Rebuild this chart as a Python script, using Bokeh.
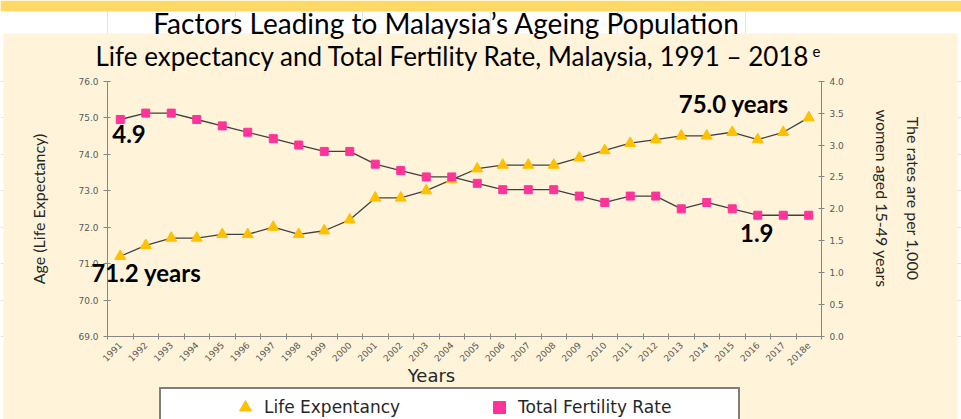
import math
from bokeh.plotting import figure
from bokeh.models import (Range1d, LinearAxis, FixedTicker, Label, Legend,
                          LegendItem, PrintfTickFormatter)
from bokeh.embed import file_html
from bokeh.resources import INLINE

# ---------------- data ----------------
years = ["1991", "1992", "1993", "1994", "1995", "1996", "1997", "1998", "1999",
         "2000", "2001", "2002", "2003", "2004", "2005", "2006", "2007", "2008",
         "2009", "2010", "2011", "2012", "2013", "2014", "2015", "2016", "2017",
         "2018e"]
life_expectancy = [71.2, 71.5, 71.7, 71.7, 71.8, 71.8, 72.0, 71.8, 71.9, 72.2,
                   72.8, 72.8, 73.0, 73.3, 73.6, 73.7, 73.7, 73.7, 73.9, 74.1,
                   74.3, 74.4, 74.5, 74.5, 74.6, 74.4, 74.6, 75.0]
fertility_rate = [3.4, 3.5, 3.5, 3.4, 3.3, 3.2, 3.1, 3.0, 2.9, 2.9,
                  2.7, 2.6, 2.5, 2.5, 2.4, 2.3, 2.3, 2.3, 2.2, 2.1,
                  2.2, 2.2, 2.0, 2.1, 2.0, 1.9, 1.9, 1.9]
left_ticks = [69.0, 70.0, 71.0, 72.0, 73.0, 74.0, 75.0, 76.0]
right_ticks = [0.0, 0.5, 1.0, 1.5, 2.0, 2.5, 3.0, 3.5, 4.0]
series_names = ["Life Expentancy", "Total Fertility Rate"]
annotations = ["4.9", "71.2 years", "75.0 years", "1.9"]
title_text = "Factors Leading to Malaysia\u2019s Ageing Population"
subtitle_text = "Life expectancy and Total Fertility Rate, Malaysia, 1991 \u2013 2018"
left_label = "Age (Life Expectancy)"
right_label_lines = ["The rates are per 1,000", "women aged 15-49 years"]
x_title = "Years"

# ---------------- layout constants (pixels) ----------------
W, H = 961, 419
X0, X1 = 107, 821          # axis extent, horizontal
Y_TOP, Y_BOT = 80.7, 336   # axis extent, vertical

CREAM = "#FFF4DA"
GOLD = "#FFC000"
PINK = "#FF3399"
AXIS = "#868686"
TICKTXT = "#595959"
TXT = "#262626"

n = len(years)
le_lo, le_hi = left_ticks[0], left_ticks[-1]
tf_lo, tf_hi = right_ticks[0], right_ticks[-1]
ppx = (X1 - X0) / n
k_le = (le_hi - le_lo) / (Y_BOT - Y_TOP)
k_tf = (tf_hi - tf_lo) / (Y_BOT - Y_TOP)


def sx(px):
    return (px - X0) / ppx


def sy(py):
    return le_hi - (py - Y_TOP) * k_le


p = figure(width=W, height=H,
           x_range=Range1d(sx(0), sx(W)),
           y_range=Range1d(sy(H), sy(0)),
           toolbar_location=None, output_backend="svg", title=None,
           x_axis_location=None, y_axis_location=None, min_border=0)
p.extra_y_ranges = {"tfr": Range1d(tf_lo - (H - Y_BOT) * k_tf, tf_hi + Y_TOP * k_tf)}
p.background_fill_color = "white"
p.border_fill_color = "white"
p.outline_line_color = None

# background panels
p.quad(left=sx(3), right=sx(957), top=sy(33), bottom=sy(H), fill_color=CREAM, line_color=None)
p.quad(left=sx(0), right=sx(W), top=sy(0), bottom=sy(11), fill_color="#FFD966", line_color=None)

xs = [i + 0.5 for i in range(n)]

# x axis
xa = LinearAxis(fixed_location=le_lo, bounds=(0, n))
xa.ticker = FixedTicker(ticks=xs, minor_ticks=list(range(n + 1)))
xa.major_label_overrides = {x: y for x, y in zip(xs, years)}
xa.major_label_orientation = math.pi / 4
xa.major_tick_in = 0
xa.major_tick_out = 0
xa.minor_tick_in = 3
xa.minor_tick_out = 3
xa.minor_tick_line_color = AXIS
xa.axis_line_color = AXIS
xa.major_label_standoff = 4
xa.major_label_text_font = "DejaVu Sans"
xa.major_label_text_font_size = "9px"
xa.major_label_text_color = TICKTXT
p.add_layout(xa, "below")

# left axis
ya = LinearAxis(fixed_location=0, bounds=(le_lo, le_hi))
ya.ticker = FixedTicker(ticks=left_ticks)
ya.formatter = PrintfTickFormatter(format="%.1f")
ya.axis_line_color = AXIS
ya.major_tick_line_color = AXIS
ya.major_tick_in = 3
ya.major_tick_out = 4
ya.minor_tick_line_color = None
ya.major_label_text_font = "DejaVu Sans"
ya.major_label_text_font_size = "9px"
ya.major_label_text_color = TICKTXT
ya.axis_label = left_label
ya.axis_label_text_font = "Lato"
ya.axis_label_text_font_size = "16px"
ya.axis_label_text_font_style = "normal"
ya.axis_label_text_color = TXT
ya.axis_label_standoff = 27
p.add_layout(ya, "left")

# right axis
ra = LinearAxis(y_range_name="tfr", fixed_location=n, bounds=(tf_lo, tf_hi))
ra.ticker = FixedTicker(ticks=right_ticks)
ra.formatter = PrintfTickFormatter(format="%.1f")
ra.axis_line_color = AXIS
ra.major_tick_line_color = AXIS
ra.major_tick_in = 3
ra.major_tick_out = 3
ra.minor_tick_line_color = None
ra.major_label_text_font = "DejaVu Sans"
ra.major_label_text_font_size = "9px"
ra.major_label_text_color = TICKTXT
p.add_layout(ra, "right")

# right axis title (two rotated lines)
for line_text, px in zip(right_label_lines, [913, 882]):
    p.add_layout(Label(x=sx(px), y=sy(198), text=line_text, angle=-math.pi / 2,
                       text_align="center", text_baseline="middle", text_font="Lato",
                       text_font_size="16px", text_color=TXT))

# series
p.line(xs, life_expectancy, line_color="#404040", line_width=1.3)
p.line(xs, fertility_rate, line_color="#404040", line_width=1.3, y_range_name="tfr")
r_le = p.scatter(xs, life_expectancy, marker="triangle", size=11, fill_color=GOLD, line_color=GOLD)
r_tfr = p.scatter(xs, fertility_rate, marker="square", size=8, fill_color=PINK, line_color=PINK,
                  y_range_name="tfr")

# titles
p.add_layout(Label(x=sx(446), y=sy(22.5), text=title_text, text_align="center",
                   text_baseline="middle", text_font="Lato", text_font_size="28px",
                   text_color="black"))
p.add_layout(Label(x=sx(810), y=sy(55.5), text=subtitle_text, text_align="right",
                   text_baseline="middle", text_font="Lato", text_font_size="26px",
                   text_color="black"))
p.add_layout(Label(x=sx(812), y=sy(51), text="e", text_align="left",
                   text_baseline="middle", text_font="Lato", text_font_size="15px",
                   text_color="black"))

# value annotations
lab_style = dict(text_font="Lato", text_font_style="bold", text_font_size="24px",
                 text_color="black", text_baseline="middle")
p.add_layout(Label(x=xs[0], y=fertility_rate[0], y_range_name="tfr", text=annotations[0],
                   text_align="left", x_offset=-8, y_offset=-15, **lab_style))
p.add_layout(Label(x=xs[0], y=life_expectancy[0], text=annotations[1],
                   text_align="left", x_offset=-29, y_offset=-16, **lab_style))
p.add_layout(Label(x=xs[-1], y=life_expectancy[-1], text=annotations[2],
                   text_align="right", x_offset=-20, y_offset=14, **lab_style))
p.add_layout(Label(x=xs[-3], y=fertility_rate[-3], y_range_name="tfr", text=annotations[3],
                   text_align="center", x_offset=-1, y_offset=-18, **lab_style))

# x axis title
p.add_layout(Label(x=sx(431), y=sy(375), text=x_title, text_align="center",
                   text_baseline="middle", text_font="DejaVu Sans",
                   text_font_size="18px", text_color=TXT))

# legend
legend = Legend(items=[LegendItem(label=series_names[0], renderers=[r_le]),
                       LegendItem(label=series_names[1], renderers=[r_tfr])],
                location=(159, H - 391 - 36), orientation="horizontal",
                border_line_color="black", border_line_width=2,
                background_fill_color="white", background_fill_alpha=1.0,
                label_text_font="DejaVu Sans", label_text_font_size="17px",
                label_text_color=TXT,
                title=" ", title_location="left", title_text_font_size="1px",
                title_standoff=68,
                glyph_width=30, glyph_height=36, padding=0, margin=0,
                spacing=0, label_width=220, label_standoff=4)
p.add_layout(legend)

open("out.html", "w").write(file_html(p, INLINE))
